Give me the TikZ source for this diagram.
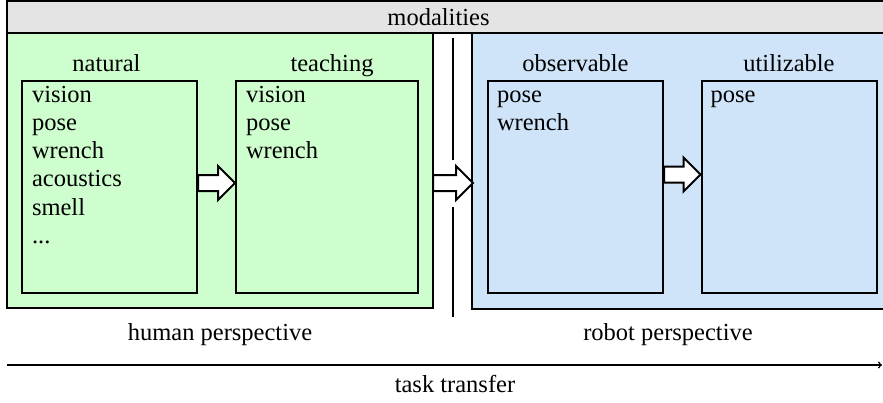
\documentclass[tikz,border=0pt]{standalone}
\usepackage{fontspec}
\setmainfont{Liberation Serif}
\usetikzlibrary{calc,positioning}

\definecolor{humangreen}{RGB}{206,254,206}
\definecolor{robotblue}{RGB}{207,228,249}
\definecolor{bargray}{RGB}{228,228,228}

\newcommand{\etcdots}{...}

% hollow block arrow from edge point #1 to tip #2
\newcommand{\blockarrow}[2]{%
  \draw [fill=white,line width=2] ($(#1)+(0,-8)$) -- ($(#2)+(-17,-8)$) -- ($(#2)+(-17,-17)$) -- (#2)
    -- ($(#2)+(-17,17)$) -- ($(#2)+(-17,8)$) -- ($(#1)+(0,8)$) -- cycle;}

\tikzset{
  modbox/.style={draw,line width=2,minimum width=175,minimum height=212,inner sep=0},
  title/.style={anchor=base,inner sep=0},
  item/.style={anchor=base west,inner sep=0}
}

\begin{document}
\begin{tikzpicture}[x=1pt,y=-1pt,line width=2,every node/.style={font=\fontsize{24.5}{28}\selectfont}]

\useasboundingbox (0,0) rectangle (883,402);

% modalities bar and the two perspectives
\draw [fill=bargray] (7,1) rectangle (890,33);
\draw [fill=humangreen] (7,33) rectangle (433,308);
\draw [fill=robotblue] (472,33) rectangle (890,309);
\node [title] (modalities) at (438.5,25) {modalities};

% separator between human and robot side
\draw (453,38) -- (453,160);
\draw (453,207) -- (453,317);

% modality boxes
\node [modbox] (natural) at (109.5,187) {};
\node [modbox,minimum width=182] (teaching) at (327,187) {};
\node [modbox] (observable) at (575.5,187) {};
\node [modbox] (utilizable) at (789,187) {};

\node [title] (natural-t) at ($(natural.north)+(-3,-9)$) {natural};
\node [title] (teaching-t) at ($(teaching.north)+(5,-9)$) {teaching};
\node [title] (observable-t) at ($(observable.north)+(0,-9)$) {observable};
\node [title] (utilizable-t) at ($(utilizable.north)+(0,-9)$) {utilizable};

\foreach \w [count=\i from 0] in {vision,pose,wrench,acoustics,smell,\etcdots}
  \node [item] (natural-\i) at ($(natural.north west)+(10,22+28.3*\i)$) {\w};
\foreach \w [count=\i from 0] in {vision,pose,wrench}
  \node [item] (teaching-\i) at ($(teaching.north west)+(10,22+28.3*\i)$) {\w};
\foreach \w [count=\i from 0] in {pose,wrench}
  \node [item] (observable-\i) at ($(observable.north west)+(9,22+28.3*\i)$) {\w};
\node [item] (utilizable-0) at ($(utilizable.north west)+(9,22)$) {pose};

% transfer arrows
\coordinate (nat-out) at ($(natural.east)+(0,-4)$);
\coordinate (tea-in) at (nat-out -| teaching.west);
\blockarrow{nat-out}{tea-in}

\coordinate (hum-out) at (433,183);
\coordinate (rob-in) at (473,183);
\blockarrow{hum-out}{rob-in}

\coordinate (obs-out) at ($(observable.east)+(0,-12.5)$);
\coordinate (uti-in) at (obs-out -| utilizable.west);
\blockarrow{obs-out}{uti-in}

\node [title] (human) at (220,340) {human perspective};
\node [title] (robot) at (668,340) {robot perspective};

% task transfer axis
\coordinate (tt-start) at (7,365);
\coordinate (tt-end) at (882,365);
\draw [->,line width=1.5] (tt-start) -- (tt-end);
\node [title] (transfer) at (455,392) {task transfer};

\end{tikzpicture}
\end{document}
